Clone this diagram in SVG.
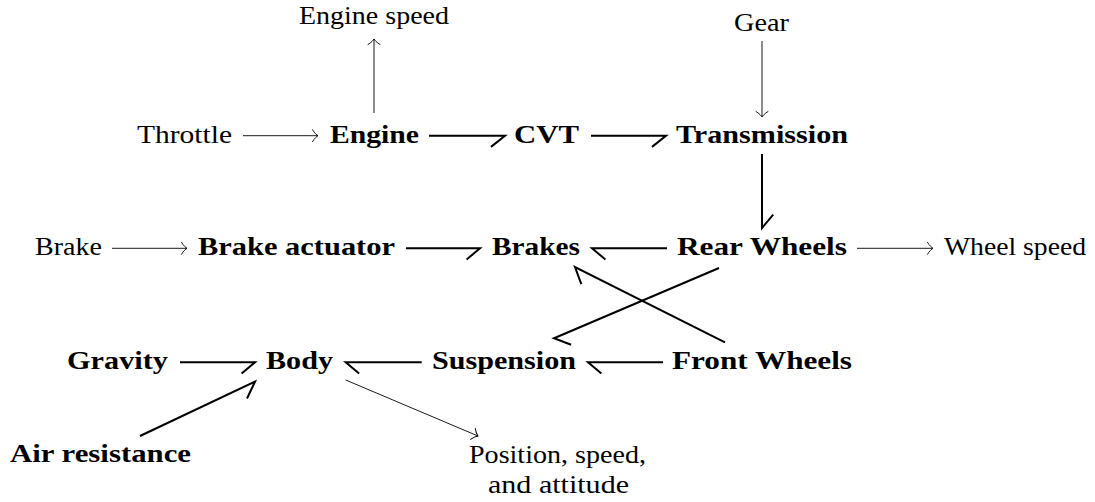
<svg xmlns="http://www.w3.org/2000/svg" width="1095" height="502" viewBox="0 0 1095 502" font-family="Liberation Serif, DejaVu Serif, serif">
<style>
  text { font-family: "Liberation Serif", "DejaVu Serif", serif; font-size: 26px; fill: #000; }
  .b { font-weight: bold; }
  .thin { fill: none; stroke: #000; stroke-width: 0.9; marker-end: url(#to); }
  .thk { fill: none; stroke: #000; stroke-width: 2; stroke-linejoin: miter; stroke-miterlimit: 10; }
</style>
<defs>
  <marker id="to" markerUnits="userSpaceOnUse" orient="auto" refX="10" refY="10" markerWidth="20" markerHeight="20" overflow="visible">
    <path d="M4.5,4 C6.5,7.5 9,9.4 10,10 C9,10.6 6.5,12.5 4.5,16" fill="none" stroke="#000" stroke-width="0.9" stroke-linecap="round"/>
  </marker>
</defs>

<g id="engine-speed"><text x="299" y="24" textLength="150" lengthAdjust="spacingAndGlyphs">Engine speed</text></g>
<g id="gear"><text x="734" y="31" textLength="55" lengthAdjust="spacingAndGlyphs">Gear</text></g>
<g id="throttle"><text x="137" y="142.5" textLength="95" lengthAdjust="spacingAndGlyphs">Throttle</text></g>
<g id="engine"><text class="b" x="330" y="142.5" textLength="89" lengthAdjust="spacingAndGlyphs">Engine</text></g>
<g id="cvt"><text class="b" x="514" y="142.5" textLength="65" lengthAdjust="spacingAndGlyphs">CVT</text></g>
<g id="transmission"><text class="b" x="676" y="142.5" textLength="172" lengthAdjust="spacingAndGlyphs">Transmission</text></g>

<g id="brake"><text x="35" y="255.3" textLength="67" lengthAdjust="spacingAndGlyphs">Brake</text></g>
<g id="brake-actuator"><text class="b" x="198" y="255.3" textLength="197" lengthAdjust="spacingAndGlyphs">Brake actuator</text></g>
<g id="brakes"><text class="b" x="492" y="255.3" textLength="88" lengthAdjust="spacingAndGlyphs">Brakes</text></g>
<g id="rear-wheels"><text class="b" x="677" y="255.3" textLength="170" lengthAdjust="spacingAndGlyphs">Rear Wheels</text></g>
<g id="wheel-speed"><text x="944" y="255.3" textLength="142" lengthAdjust="spacingAndGlyphs">Wheel speed</text></g>

<g id="gravity"><text class="b" x="67" y="369" textLength="101" lengthAdjust="spacingAndGlyphs">Gravity</text></g>
<g id="body"><text class="b" x="266" y="369" textLength="67" lengthAdjust="spacingAndGlyphs">Body</text></g>
<g id="suspension"><text class="b" x="432" y="369" textLength="144" lengthAdjust="spacingAndGlyphs">Suspension</text></g>
<g id="front-wheels"><text class="b" x="672" y="369" textLength="180" lengthAdjust="spacingAndGlyphs">Front Wheels</text></g>

<g id="air-resistance"><text class="b" x="10" y="462" textLength="181" lengthAdjust="spacingAndGlyphs">Air resistance</text></g>
<g id="position"><text x="469" y="463" textLength="177" lengthAdjust="spacingAndGlyphs">Position, speed,</text><text x="488" y="493" textLength="141" lengthAdjust="spacingAndGlyphs">and attitude</text></g>

<g id="connectors">
  <path class="thin" d="M243,135.7 H318"/>
  <path class="thin" d="M374,113 V39"/>
  <path class="thin" d="M762,41 V117"/>
  <path class="thin" d="M112,248.3 H187"/>
  <path class="thin" d="M857,248.3 H933"/>
  <path class="thin" d="M345.7,380 L478,436"/>

  <path class="thk" d="M429,135.7 H505 L491,146.9"/>
  <path class="thk" d="M591,135.7 H666 L652,146.9"/>
  <path class="thk" d="M762,154 V228 L773.2,214.6"/>
  <path class="thk" d="M406,248.3 H480 L466.6,259.5"/>
  <path class="thk" d="M667,248.3 H592 L605.4,259.5"/>
  <path class="thk" d="M725,342.3 L575,267 L581.3,284.2"/>
  <path class="thk" d="M719,268 L554,338.3 L571.1,344.7"/>
  <path class="thk" d="M180,362.3 H255 L241.6,373.5"/>
  <path class="thk" d="M421.7,362.3 H345.7 L359.1,373.5"/>
  <path class="thk" d="M663,362.3 H588 L601.4,373.5"/>
  <path class="thk" d="M140,436 L255,381.7 L247,398.5"/>
</g>
</svg>
